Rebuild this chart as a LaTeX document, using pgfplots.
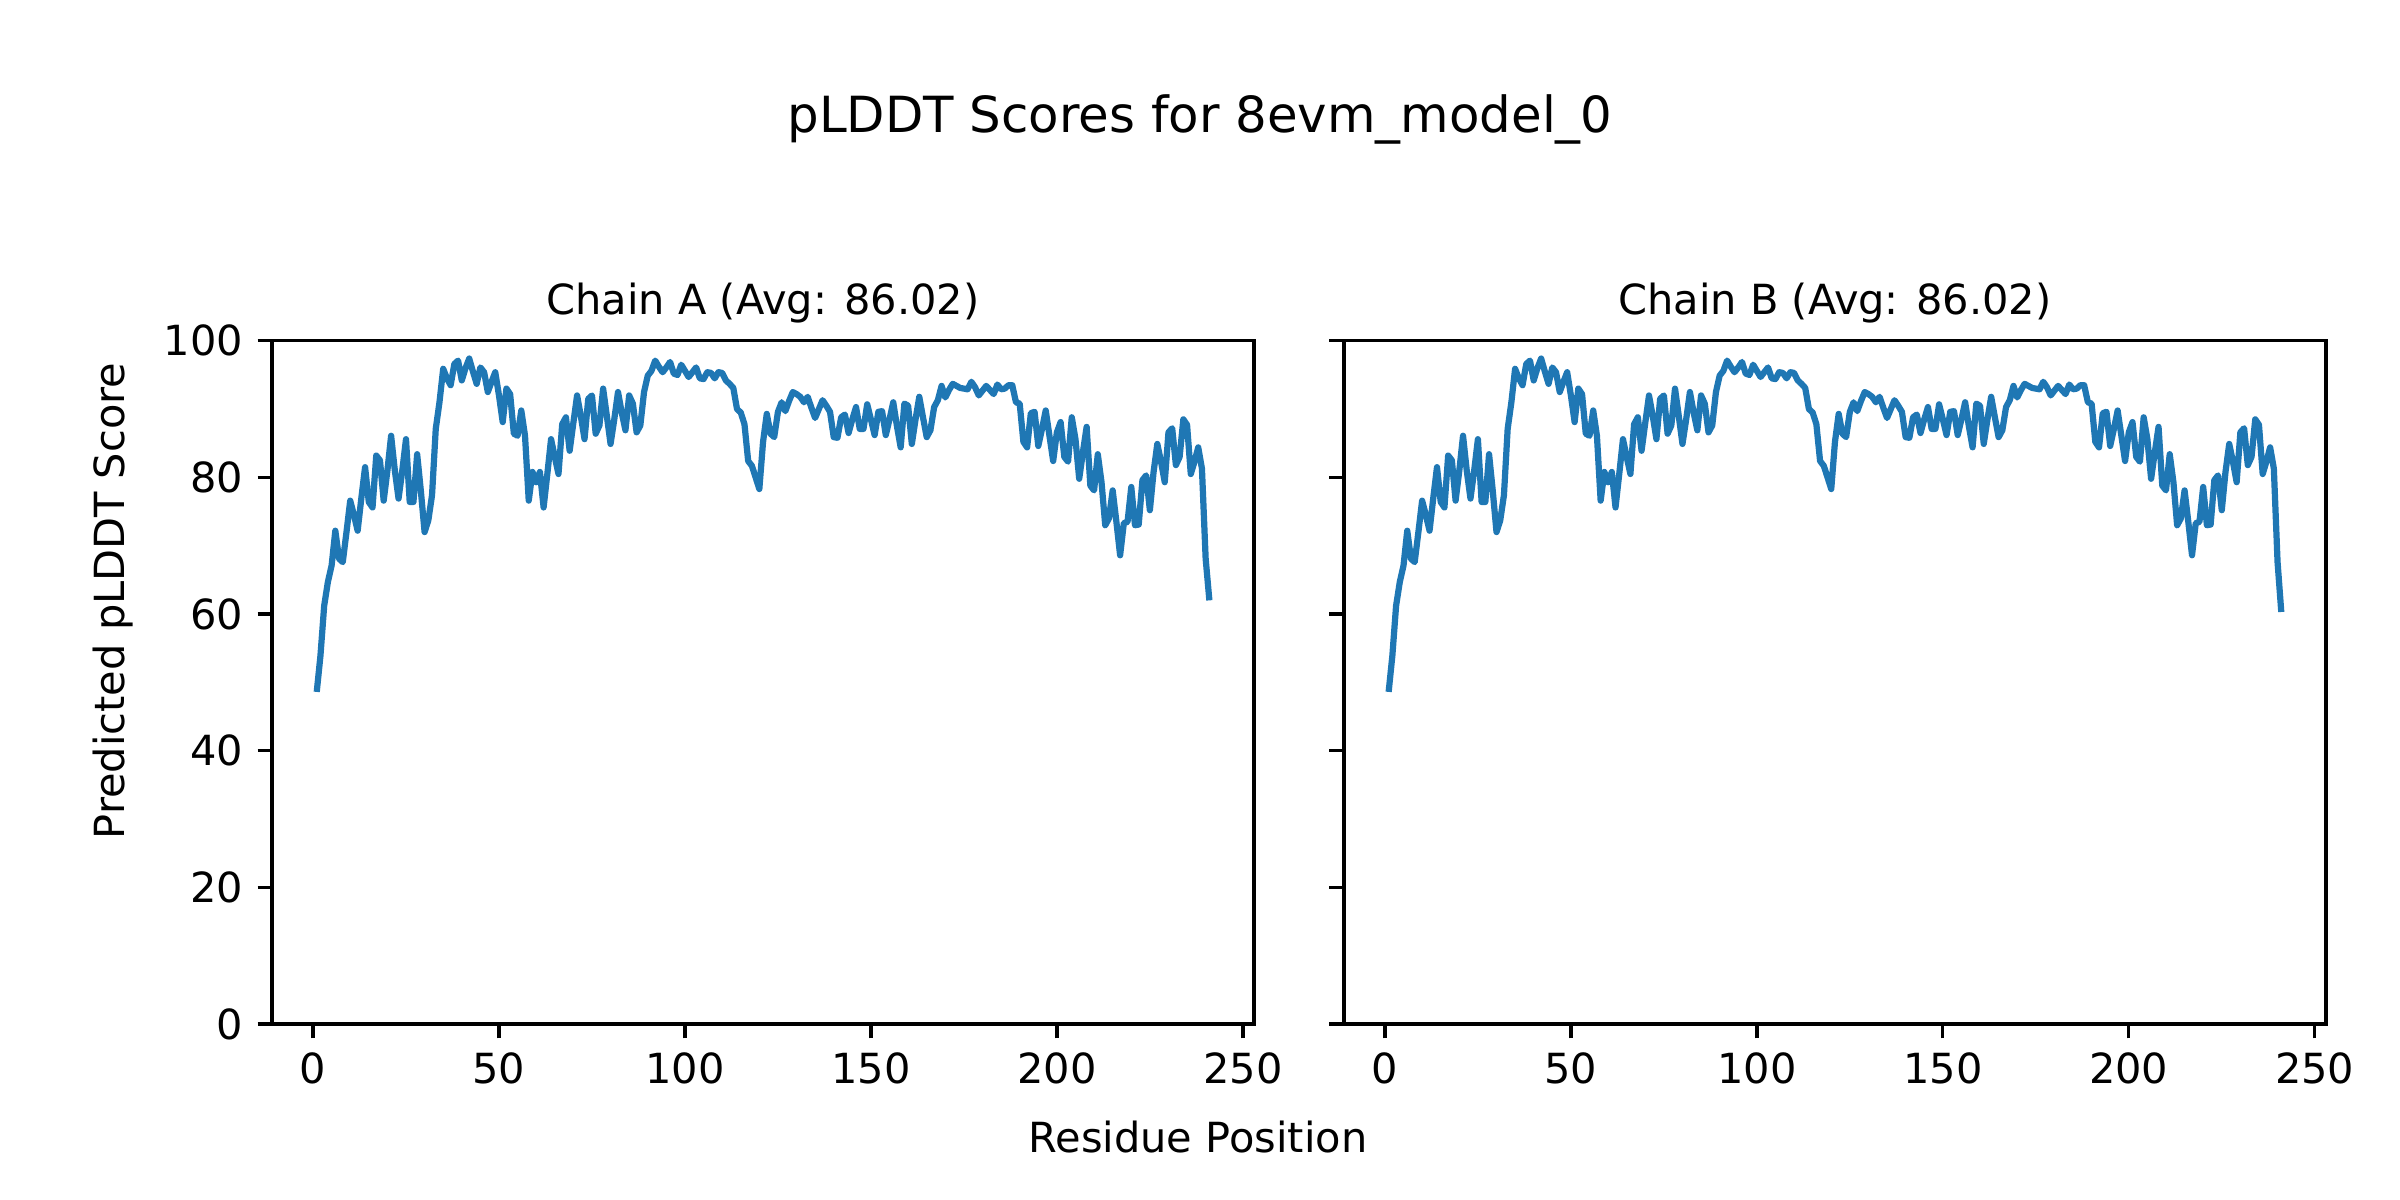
\documentclass[border=0pt]{standalone}
\usepackage{fontspec}
\setmainfont{DejaVu Sans}
\usepackage{pgfplots}
\usepackage{pgfplotstable}
\pgfplotsset{compat=1.18}

\definecolor{tabblue}{HTML}{1F77B4}

% residue, chain A, chain B
\pgfplotstableread[row sep=\\]{
x a b\\
1 48.6 48.6\\ 2 53.9 53.9\\ 3 61.2 61.2\\ 4 64.7 64.7\\ 5 67.1 67.1\\ 6 72.2 72.2\\ 7 68.1 68.1\\ 8 67.6 67.6\\ 9 72.0 72.0\\ 10 76.6 76.6\\
11 74.5 74.5\\ 12 72.2 72.2\\ 13 77.0 77.0\\ 14 81.5 81.5\\ 15 76.4 76.4\\ 16 75.6 75.6\\ 17 83.2 83.2\\ 18 82.5 82.5\\ 19 76.6 76.6\\ 20 81.0 81.0\\
21 86.1 86.1\\ 22 81.0 81.0\\ 23 76.9 76.9\\ 24 81.0 81.0\\ 25 85.6 85.6\\ 26 76.4 76.4\\ 27 76.4 76.4\\ 28 83.4 83.4\\ 29 78.0 78.0\\ 30 72.0 72.0\\
31 73.7 73.7\\ 32 77.4 77.4\\ 33 87.1 87.1\\ 34 91.0 91.0\\ 35 95.9 95.9\\ 36 94.5 94.5\\ 37 93.5 93.5\\ 38 96.6 96.6\\ 39 97.1 97.1\\ 40 94.2 94.2\\
41 96.0 96.0\\ 42 97.4 97.4\\ 43 95.5 95.5\\ 44 93.7 93.7\\ 45 96.1 96.1\\ 46 95.4 95.4\\ 47 92.5 92.5\\ 48 94.0 94.0\\ 49 95.4 95.4\\ 50 92.0 92.0\\
51 88.1 88.1\\ 52 93.0 93.0\\ 53 92.2 92.2\\ 54 86.4 86.4\\ 55 86.1 86.1\\ 56 89.8 89.8\\ 57 86.1 86.1\\ 58 76.6 76.6\\ 59 80.8 80.8\\ 60 79.3 79.3\\
61 80.8 80.8\\ 62 75.6 75.6\\ 63 80.5 80.5\\ 64 85.6 85.6\\ 65 83.0 83.0\\ 66 80.5 80.5\\ 67 87.8 87.8\\ 68 88.8 88.8\\ 69 83.9 83.9\\ 70 88.0 88.0\\
71 92.0 92.0\\ 72 89.0 89.0\\ 73 85.6 85.6\\ 74 91.5 91.5\\ 75 92.0 92.0\\ 76 86.4 86.4\\ 77 87.6 87.6\\ 78 93.0 93.0\\ 79 89.0 89.0\\ 80 84.9 84.9\\
81 88.5 88.5\\ 82 92.5 92.5\\ 83 89.5 89.5\\ 84 86.9 86.9\\ 85 92.0 92.0\\ 86 90.8 90.8\\ 87 86.6 86.6\\ 88 87.6 87.6\\ 89 92.5 92.5\\ 90 94.9 94.9\\
91 95.6 95.6\\ 92 97.1 97.1\\ 93 96.2 96.2\\ 94 95.4 95.4\\ 95 96.1 96.1\\ 96 96.9 96.9\\ 97 95.2 95.2\\ 98 95.0 95.0\\ 99 96.5 96.5\\ 100 95.6 95.6\\
101 94.7 94.7\\ 102 95.4 95.4\\ 103 96.1 96.1\\ 104 94.5 94.5\\ 105 94.4 94.4\\ 106 95.4 95.4\\ 107 95.3 95.3\\ 108 94.5 94.5\\ 109 95.4 95.4\\ 110 95.3 95.3\\
111 94.2 94.2\\ 112 93.7 93.7\\ 113 93.1 93.1\\ 114 90.0 90.0\\ 115 89.5 89.5\\ 116 87.8 87.8\\ 117 82.4 82.4\\ 118 81.7 81.7\\ 119 80.0 80.0\\ 120 78.3 78.3\\
121 85.2 85.2\\ 122 89.3 89.3\\ 123 86.4 86.4\\ 124 85.9 85.9\\ 125 89.6 89.6\\ 126 91.0 91.0\\ 127 89.7 89.7\\ 128 91.2 91.2\\ 129 92.5 92.5\\ 130 92.2 92.2\\
131 91.8 91.8\\ 132 91.0 91.0\\ 133 91.8 91.8\\ 134 90.2 90.2\\ 135 88.7 88.7\\ 136 90.0 90.0\\ 137 91.3 91.3\\ 138 90.5 90.5\\ 139 89.6 89.6\\ 140 85.9 85.9\\
141 85.8 85.8\\ 142 88.8 88.8\\ 143 89.2 89.2\\ 144 86.5 86.5\\ 145 88.5 88.5\\ 146 90.3 90.3\\ 147 87.1 87.1\\ 148 87.1 87.1\\ 149 90.7 90.7\\ 150 88.5 88.5\\
151 86.2 86.2\\ 152 89.6 89.6\\ 153 89.7 89.7\\ 154 86.2 86.2\\ 155 88.5 88.5\\ 156 91.0 91.0\\ 157 87.5 87.5\\ 158 84.4 84.4\\ 159 90.8 90.8\\ 160 90.5 90.5\\
161 84.9 84.9\\ 162 88.5 88.5\\ 163 91.8 91.8\\ 164 88.8 88.8\\ 165 85.9 85.9\\ 166 86.9 86.9\\ 167 90.3 90.3\\ 168 91.3 91.3\\ 169 93.4 93.4\\ 170 91.7 91.7\\
171 92.8 92.8\\ 172 93.7 93.7\\ 173 93.4 93.4\\ 174 93.1 93.1\\ 175 93.0 93.0\\ 176 92.9 92.9\\ 177 94.0 94.0\\ 178 93.2 93.2\\ 179 92.0 92.0\\ 180 92.7 92.7\\
181 93.4 93.4\\ 182 92.8 92.8\\ 183 92.2 92.2\\ 184 93.6 93.6\\ 185 92.9 92.9\\ 186 93.0 93.0\\ 187 93.5 93.5\\ 188 93.5 93.5\\ 189 91.0 91.0\\ 190 90.8 90.8\\
191 85.2 85.2\\ 192 84.4 84.4\\ 193 89.4 89.4\\ 194 89.6 89.6\\ 195 84.6 84.6\\ 196 87.1 87.1\\ 197 89.8 89.8\\ 198 86.1 86.1\\ 199 82.4 82.4\\ 200 86.6 86.6\\
201 88.1 88.1\\ 202 83.0 83.0\\ 203 82.3 82.3\\ 204 88.8 88.8\\ 205 85.6 85.6\\ 206 79.8 79.8\\ 207 83.7 83.7\\ 208 87.4 87.4\\ 209 78.8 78.8\\ 210 78.1 78.1\\
211 83.4 83.4\\ 212 79.3 79.3\\ 213 73.0 73.0\\ 214 74.0 74.0\\ 215 78.1 78.1\\ 216 73.5 73.5\\ 217 68.6 68.6\\ 218 73.3 73.3\\ 219 73.5 73.5\\ 220 78.6 78.6\\
221 73.0 73.0\\ 222 73.1 73.1\\ 223 79.6 79.6\\ 224 80.3 80.3\\ 225 75.2 75.2\\ 226 80.8 80.8\\ 227 84.9 84.9\\ 228 82.3 82.3\\ 229 79.3 79.3\\ 230 86.6 86.6\\
231 87.2 87.2\\ 232 81.8 81.8\\ 233 83.0 83.0\\ 234 88.5 88.5\\ 235 87.7 87.7\\ 236 80.5 80.5\\ 237 82.3 82.3\\ 238 84.4 84.4\\ 239 81.3 81.3\\ 240 68.1 67.6\\
241 62.0 60.3\\
}\plddt

\pgfplotsset{
  chainax/.style={
    scale only axis,
    width=3.273in, height=2.277in,
    xmin=-11, xmax=253,
    ymin=0, ymax=100,
    xtick={0,50,...,250},
    ytick={0,20,...,100},
    tick align=outside,
    major tick length=3.5pt,
    every tick/.style={black, line width=0.8pt},
    axis line style={line width=0.8pt},
    tick label style={font=\fontsize{10}{12}\selectfont},
    /pgf/number format/assume math mode=true,
    xtick pos=bottom, ytick pos=left,
    axis on top=false,
  }
}

\begin{document}
\begin{tikzpicture}
\useasboundingbox (0,0) rectangle (8in,4in);

\begin{axis}[chainax, at={(0.907in,0.587in)}, anchor=south west]
\addplot[tabblue, line width=1.5pt, line join=round] table[x=x, y=a] {\plddt};
\end{axis}

\begin{axis}[chainax, at={(4.48in,0.587in)}, anchor=south west, yticklabels={}]
\addplot[tabblue, line width=1.5pt, line join=round] table[x=x, y=b] {\plddt};
\end{axis}

\node[font=\fontsize{12}{14}\selectfont] at (4in,3.603in) {pLDDT Scores for 8evm\_model\_0};
\node[font=\fontsize{10}{12}\selectfont] at (2.5435in,2.99in) {Chain A (Avg: 86.02)};
\node[font=\fontsize{10}{12}\selectfont] at (6.1165in,2.99in) {Chain B (Avg: 86.02)};
\node[font=\fontsize{10}{12}\selectfont] at (3.993in,0.21in) {Residue Position};
\node[font=\fontsize{10}{12}\selectfont, rotate=90] at (0.377in,1.997in) {Predicted pLDDT Score};
\end{tikzpicture}
\end{document}
